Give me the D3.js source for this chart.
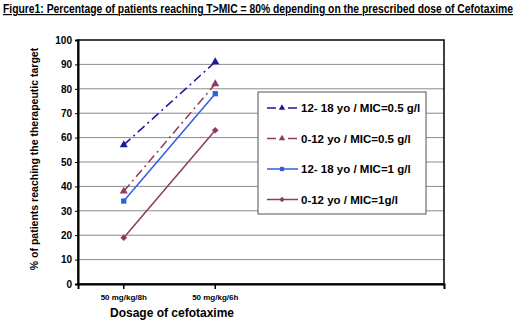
<!DOCTYPE html>
<html>
<head>
    <meta charset="utf-8">
    <title>cefotaxime dose chart</title>
    <style>
    body { margin: 0; background: white; }
    text { font-family: "Liberation Sans", Arial, sans-serif; font-weight: bold; }
    .grid line { stroke: #8c8c8c; stroke-width: 1; }
    </style>
</head>
<body>
    <svg width="520" height="320"></svg>
    <script src="https://d3js.org/d3.v7.min.js"></script>
    <script>
        // categories (Excel-style, two empty slots on the right)
        var categories = ["50 mg/kg/8h", "50 mg/kg/6h", "", " "];
        var doses = ["50 mg/kg/8h", "50 mg/kg/6h"];
        var yTicks = [0, 10, 20, 30, 40, 50, 60, 70, 80, 90, 100];

        var older05 = [57, 91];   // 12- 18 yo / MIC=0.5 g/l
        var young05 = [38, 82];   // 0-12 yo / MIC=0.5 g/l
        var older1 = [34, 78];    // 12- 18 yo / MIC=1 g/l
        var young1 = [19, 63];    // 0-12 yo / MIC=1g/l

        var series = [
            {name: "12- 18 yo / MIC=0.5 g/l", values: older05, color: "#1a1a9c", dash: "9,4,2,4", shape: "triangle"},
            {name: "0-12 yo / MIC=0.5 g/l", values: young05, color: "#8e3a66", dash: "9,4,2,4", shape: "triangle"},
            {name: "12- 18 yo / MIC=1 g/l", values: older1, color: "#2f5fe0", dash: null, shape: "square"},
            {name: "0-12 yo / MIC=1g/l", values: young1, color: "#8e3a66", dash: null, shape: "diamond"}
        ];

        var svg = d3.select("svg");
        var pLeft = 78, pRight = 444, pTop = 40, pBottom = 284;

        var x = d3.scaleBand().domain(categories).range([pLeft, pRight]);
        var y = d3.scaleLinear().domain([0, 100]).range([pBottom, pTop]);

        // title
        svg.append("text")
            .attr("x", 3).attr("y", 13)
            .attr("font-size", 12)
            .attr("text-decoration", "underline")
            .attr("textLength", 510)
            .attr("lengthAdjust", "spacingAndGlyphs")
            .text("Figure1: Percentage of patients reaching T>MIC = 80% depending on the prescribed dose of Cefotaxime");

        // gridlines
        svg.append("g").attr("class", "grid")
            .selectAll("line").data(yTicks.slice(1, -1)).enter()
            .append("line")
            .attr("x1", pLeft).attr("x2", pRight)
            .attr("y1", d => y(d)).attr("y2", d => y(d));

        // frame
        svg.append("rect")
            .attr("x", pLeft).attr("y", pTop)
            .attr("width", pRight - pLeft).attr("height", pBottom - pTop)
            .attr("fill", "none").attr("stroke", "black").attr("stroke-width", 1.5);

        // y axis
        var yAxis = svg.append("g")
            .attr("transform", "translate(" + pLeft + ",0)")
            .call(d3.axisLeft(y).tickValues(yTicks).tickSize(3).tickPadding(3));
        yAxis.select(".domain").attr("stroke", "black").attr("stroke-width", 2);
        yAxis.selectAll("text").attr("font-size", 10).attr("font-family", "Liberation Sans, Arial").attr("font-weight", "bold").attr("fill", "black");
        yAxis.selectAll(".tick line").attr("stroke", "black");

        // x axis
        var xAxis = svg.append("g")
            .attr("transform", "translate(0," + pBottom + ")")
            .call(d3.axisBottom(x).tickValues(doses).tickSize(5).tickPadding(5));
        xAxis.select(".domain").attr("stroke", "black").attr("stroke-width", 2);
        xAxis.selectAll(".tick line").attr("stroke", "black").attr("stroke-width", 1.5);
        xAxis.selectAll("text").attr("font-size", 8).attr("font-family", "Liberation Sans, Arial").attr("font-weight", "bold").attr("fill", "black");

        // axis titles
        svg.append("text")
            .attr("transform", "translate(38,159) rotate(-90)")
            .attr("text-anchor", "middle")
            .attr("font-size", 10.5)
            .text("% of patients reaching the therapeutic target");
        svg.append("text")
            .attr("x", 172).attr("y", 317)
            .attr("text-anchor", "middle")
            .attr("font-size", 12)
            .text("Dosage of cefotaxime");

        function cx(i) { return x(doses[i]) + x.bandwidth() / 2; }

        function marker(g, shape, color, px, py, size) {
            if (shape === "triangle") {
                g.append("path").attr("d", d3.symbol(d3.symbolTriangle, size)())
                    .attr("transform", "translate(" + px + "," + py + ")").attr("fill", color);
            } else if (shape === "square") {
                var h = Math.sqrt(size) / 2;
                g.append("rect").attr("x", px - h).attr("y", py - h).attr("width", 2 * h).attr("height", 2 * h).attr("fill", color);
            } else {
                g.append("path").attr("d", d3.symbol(d3.symbolDiamond2, size)())
                    .attr("transform", "translate(" + px + "," + py + ")").attr("fill", color);
            }
        }

        var line = d3.line().x((d, i) => cx(i)).y(d => y(d));

        series.forEach(function(s) {
            var g = svg.append("g");
            g.append("path")
                .datum(s.values)
                .attr("d", line)
                .attr("fill", "none")
                .attr("stroke", s.color)
                .attr("stroke-width", 1.5)
                .attr("stroke-dasharray", s.dash);
            s.values.forEach(function(v, i) { marker(g, s.shape, s.color, cx(i), y(v), 28); });
        });

        // legend
        var lg = svg.append("g");
        lg.append("rect")
            .attr("x", 258).attr("y", 92).attr("width", 168).attr("height", 122)
            .attr("fill", "white").attr("stroke", "#555").attr("stroke-width", 1);
        series.forEach(function(s, i) {
            var ly = 108 + i * 30.5;
            lg.append("line")
                .attr("x1", 267).attr("x2", 298).attr("y1", ly).attr("y2", ly)
                .attr("stroke", s.color).attr("stroke-width", 1.5)
                .attr("stroke-dasharray", s.dash ? "9,5,2,5" : null);
            marker(lg, s.shape, s.color, 282, ly, 18);
            lg.append("text")
                .attr("x", 301).attr("y", ly + 4)
                .attr("font-size", 11.5)
                .text(s.name);
        });
    </script>
</body>
</html>
